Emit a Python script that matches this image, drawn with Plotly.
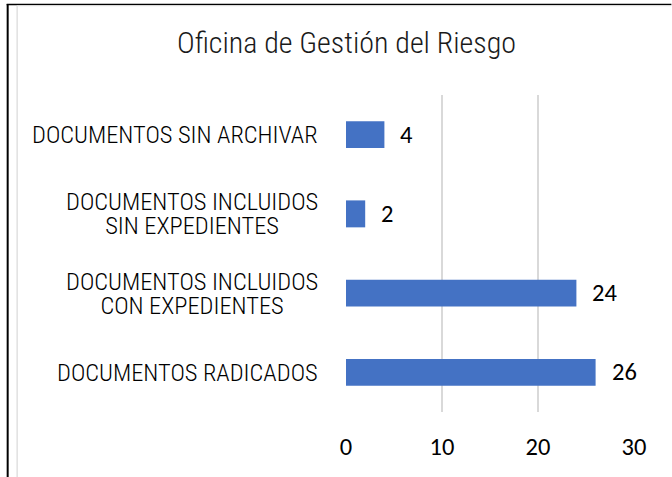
import plotly.graph_objects as go

# ---- data (bottom to top, as Plotly draws horizontal bars) ----
categories = [
    "DOCUMENTOS RADICADOS",
    "DOCUMENTOS INCLUIDOS<br>CON EXPEDIENTES",
    "DOCUMENTOS INCLUIDOS<br>SIN EXPEDIENTES",
    "DOCUMENTOS SIN ARCHIVAR",
]
values = [26, 24, 2, 4]
tick_values = [0, 10, 20, 30]
tick_labels = ["0", "10", "20", "30"]
title_text = "Oficina de Gestión del Riesgo"

W, H = 672, 477
ML, MR, MT, MB = 345.5, 37.5, 95, 65
PW = W - ML - MR
PH = H - MT - MB

NARROW = "Roboto Condensed, Arial Narrow, sans-serif"
NUMFONT = "Carlito, Calibri, Lato, sans-serif"


def px_x(p):
    return (p - ML) / PW


def px_y(p):
    return 1 - (p - MT) / PH


fig = go.Figure()
fig.add_trace(go.Bar(
    y=categories, x=values, orientation="h",
    marker=dict(color="#4472C4", line=dict(width=0)),
    hoverinfo="skip",
))

annotations = []
# value labels
for c, v in zip(categories, values):
    annotations.append(dict(
        x=v, y=c, xref="x", yref="y", text=str(v), showarrow=False,
        xanchor="left", yanchor="middle", xshift=14,
        font=dict(family=NUMFONT, size=24.5, color="#000000"),
    ))
# category labels (centered lines, tight line spacing)
for c in categories:
    lines = c.split("<br>")
    txt = "<br>".join('<span style="font-size:24.4px">%s</span>' % ln for ln in lines)
    annotations.append(dict(
        x=0, y=c, xref="paper", yref="y", text=txt, showarrow=False,
        xanchor="right", yanchor="middle", align="center", xshift=-26,
        font=dict(family=NARROW, size=18.3, color="#000000", weight=300),
    ))

shapes = [
    # outer black frame (top and left)
    dict(type="line", xref="paper", yref="paper", x0=px_x(5), x1=px_x(672), y0=px_y(4.5), y1=px_y(4.5),
         line=dict(color="#000000", width=1.5)),
    dict(type="line", xref="paper", yref="paper", x0=px_x(6), x1=px_x(6), y0=px_y(4), y1=px_y(477),
         line=dict(color="#000000", width=2)),
    # light gray chart-area border
    dict(type="line", xref="paper", yref="paper", x0=px_x(15.5), x1=px_x(15.5), y0=px_y(5.5), y1=px_y(477),
         line=dict(color="#d9d9d9", width=1.2)),
    dict(type="line", xref="paper", yref="paper", x0=px_x(15.5), x1=px_x(672), y0=px_y(5.8), y1=px_y(5.8),
         line=dict(color="#e6e6e6", width=1)),
]

fig.update_layout(
    width=W, height=H,
    margin=dict(l=ML, r=MR, t=MT, b=MB, autoexpand=False),
    paper_bgcolor="white", plot_bgcolor="white",
    showlegend=False,
    bargap=0.66,
    title=dict(text=title_text, x=346.5 / W, xanchor="center", y=1 - 42 / H, yanchor="middle",
               yref="container", font=dict(family=NARROW, size=30, color="#1a1a1a", weight=300)),
    xaxis=dict(range=[0, 30], tickvals=tick_values, ticktext=tick_labels,
               showgrid=True, gridcolor="#d9d9d9", gridwidth=2, zeroline=False,
               showline=False, ticks="outside", ticklen=13, tickcolor="rgba(0,0,0,0)",
               tickfont=dict(family=NUMFONT, size=24.5, color="#000000"), fixedrange=True),
    yaxis=dict(showticklabels=False, showgrid=False, zeroline=False, showline=False,
               categoryorder="array", categoryarray=categories, fixedrange=True),
    annotations=annotations,
    shapes=shapes,
)

fig.write_html("out.html", config={"displayModeBar": False},
               post_script="document.body.style.margin='0';")
